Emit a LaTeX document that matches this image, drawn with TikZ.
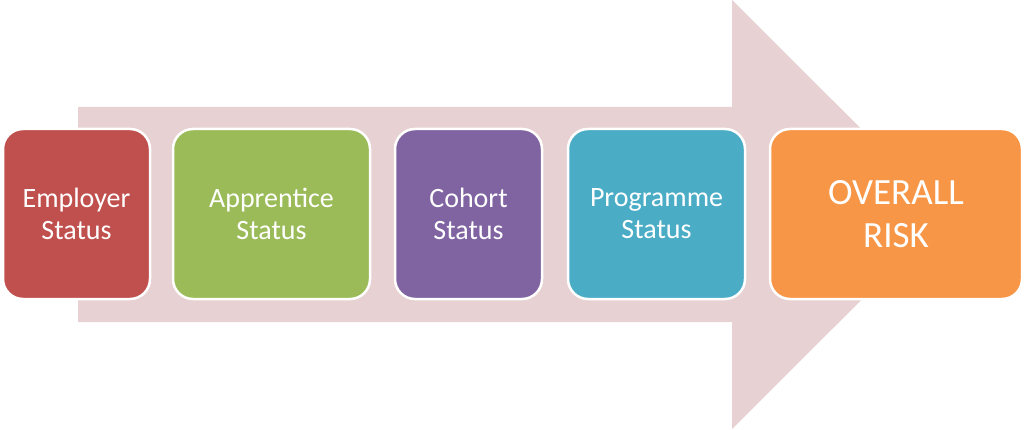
\documentclass[tikz,border=0pt]{standalone}
\usepackage{fontspec}
\setmainfont{Carlito}
\definecolor{arrowpink}{HTML}{E8D1D2}
\definecolor{empred}{HTML}{C0504D}
\definecolor{appgreen}{HTML}{9BBB59}
\definecolor{cohpurple}{HTML}{8064A2}
\definecolor{progteal}{HTML}{4BACC6}
\definecolor{riskorange}{HTML}{F79646}
\tikzset{
  status/.style={draw=white, line width=2.5pt, rounded corners=20pt, text=white,
    align=center, minimum height=170pt, inner sep=0pt,
    font=\fontsize{28}{32}\selectfont}
}
\begin{document}
\begin{tikzpicture}[x=1pt,y=-1pt]
        \useasboundingbox (0,0) rectangle (1024,430);
        \fill[arrowpink] (78,107) -- (732,107) -- (732,0) -- (947,214.5) -- (732,429) -- (732,322) -- (78,322) -- cycle;
        \node[status, fill=empred, minimum width=147pt] (employer) at (76.5,214) {Employer\\Status};
        \node[status, fill=appgreen, minimum width=197pt] (apprentice) at (271.5,214) {Apprentice\\Status};
        \node[status, fill=cohpurple, minimum width=147pt] (cohort) at (468.5,214) {Cohort\\Status};
        \node[status, fill=progteal, minimum width=177pt] (programme) at (656.5,214) {Programme\\Status};
        \node[status, fill=riskorange, minimum width=252pt, font=\fontsize{37}{43}\selectfont] (risk) at (896,214) {OVERALL\\RISK};

      \end{tikzpicture}
\end{document}
